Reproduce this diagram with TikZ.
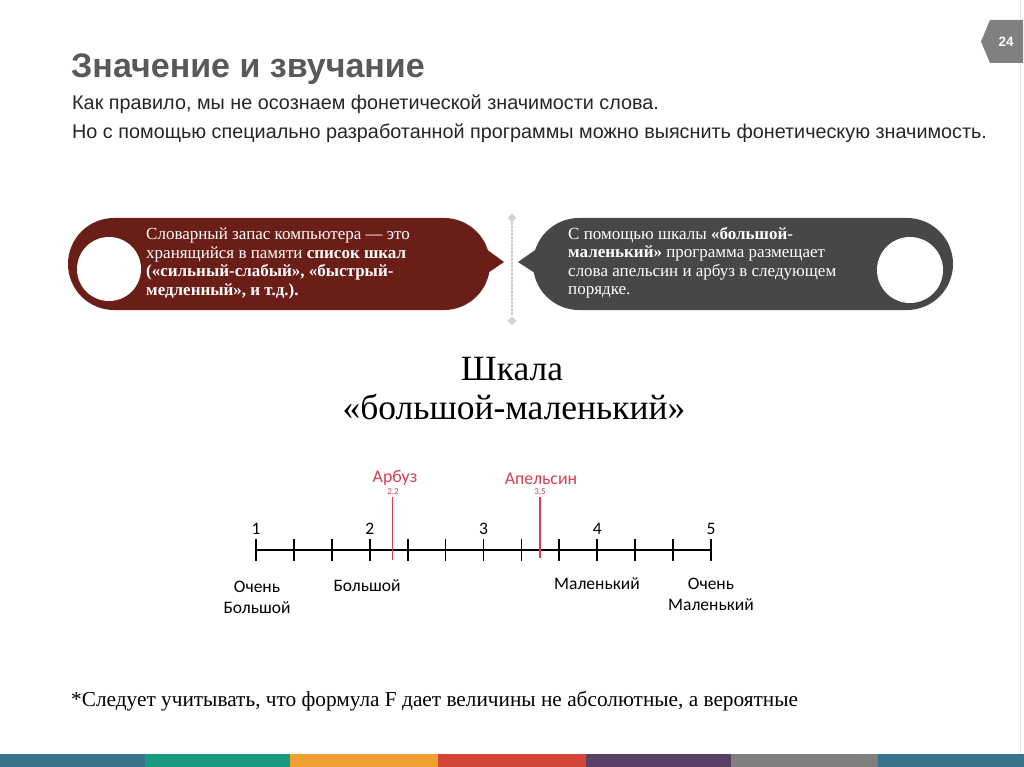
\documentclass[tikz,border=0pt]{standalone}
\usepackage{fontspec}
\setmainfont{Liberation Serif}
\newfontfamily\arialfont{Liberation Sans}
\newfontfamily\calibrifont{Carlito}
\usetikzlibrary{shapes.geometric}
\definecolor{titlegray}{RGB}{89,89,89}
\definecolor{bubblered}{RGB}{107,30,23}
\definecolor{bubblegray}{RGB}{71,71,71}
\definecolor{markred}{RGB}{214,62,82}
\definecolor{badgegray}{RGB}{128,128,128}
\definecolor{barblue}{RGB}{58,115,144}
\definecolor{barteal}{RGB}{26,154,128}
\definecolor{barorange}{RGB}{240,160,48}
\definecolor{barred}{RGB}{212,69,53}
\definecolor{barpurple}{RGB}{87,66,101}
\definecolor{bargray}{RGB}{127,127,127}

\begin{document}
\begin{tikzpicture}[line cap=round,line join=round,x=1pt,y=-1pt,
  bubbletext/.style={anchor=north west,align=left,inner sep=0pt,text=white,font=\fontsize{17}{18.5}\selectfont},
  scalelabel/.style={align=center,inner sep=0pt,font=\calibrifont\fontsize{17.5}{21}\selectfont},
  scalenum/.style={anchor=base,inner sep=0pt,font=\calibrifont\fontsize{17.5}{20}\selectfont},
  marklabel/.style={anchor=base,inner sep=0pt,text=markred,font=\calibrifont\fontsize{17.8}{20}\selectfont},
  markval/.style={anchor=base,inner sep=0pt,text=markred,font=\calibrifont\fontsize{9}{10}\selectfont},
  tickline/.style={line width=1.8pt,line cap=butt}]
\useasboundingbox (0,0) rectangle (1024,767);
\fill[white] (0,0) rectangle (1024,767);
\draw[gray!20] (1020,0) -- (1020,754);
% header
\node[anchor=base west,inner sep=0pt,text=titlegray,font=\arialfont\bfseries\fontsize{34}{40}\selectfont] (title) at (71,78) {Значение и звучание};
\node[anchor=base west,inner sep=0pt,text=black!85,font=\arialfont\fontsize{19.8}{23}\selectfont] (lineone) at (72,110) {Как правило, мы не осознаем фонетической значимости слова.};
\node[anchor=base west,inner sep=0pt,text=black!85,font=\arialfont\fontsize{19.8}{23}\selectfont] (linetwo) at (72,139) {Но с помощью специально разработанной программы можно выяснить фонетическую значимость.};
\fill[badgegray] (990,20) -- (1023,20) -- (1023,63) -- (990,63) -- (981,41.5) -- cycle;
\node[text=white,inner sep=0pt,font=\arialfont\bfseries\fontsize{13.5}{15}\selectfont] (pagenum) at (1006,41.5) {24};
% bubbles
\fill[bubblered,rounded corners=46] (68,218) rectangle (490,310);
\fill[bubblered] (482,246) -- (504,262) -- (482,277) -- cycle;
\fill[white] (109,269) circle (32);
\node[bubbletext] (lefttext) at (146,228) {Словарный запас компьютера — это\\хранящийся в памяти \textbf{список шкал}\\\textbf{(«сильный-слабый», «быстрый-}\\\textbf{медленный», и т.д.).}};
\fill[bubblegray,rounded corners=46] (533,218) rectangle (953,310);
\fill[bubblegray] (541,246) -- (518,262) -- (541,277) -- cycle;
\fill[white] (910,270) circle (33);
\node[bubbletext] (righttext) at (568,227) {С помощью шкалы \textbf{«большой-}\\\textbf{маленький»} программа размещает\\слова апельсин и арбуз в следующем\\порядке.};
\node[diamond,fill=gray!35,inner sep=0pt,minimum size=9pt] (divtop) at (512,218) {};
\node[diamond,fill=gray!35,inner sep=0pt,minimum size=9pt] (divbot) at (512,321) {};
\draw[gray!45,dotted,line width=1.6pt] (divtop) -- (divbot);
% scale
\node[anchor=base,inner sep=0pt,font=\fontsize{35.5}{40}\selectfont] (scaletitle) at (512,380) {Шкала};
\node[anchor=base,inner sep=0pt,font=\fontsize{35.5}{40}\selectfont] (scalename) at (514,419) {«большой-маленький»};
\coordinate (axstart) at (256,550);
\coordinate (axend) at (711,550);
\draw[line width=1.8pt,line cap=butt] (axstart) -- (axend);
\foreach \i in {0,...,12}
  \draw[tickline] ({256+\i*37.917},539) -- ({256+\i*37.917},561);
\foreach \n in {1,...,5}
  \node[scalenum] (num\n) at ({256+(\n-1)*113.75},534) {\n};
\draw[markred,line width=1.6pt,line cap=butt] (392.5,497) -- (392.5,560);
\node[marklabel] (arbuz) at (395,482) {Арбуз};
\node[markval] (arbuzval) at (393,494) {2,2};
\draw[markred,line width=1.6pt,line cap=butt] (540,497) -- (540,558);
\node[marklabel] (apelsin) at (541,484) {Апельсин};
\node[markval] (apelsinval) at (540,494) {3,5};
\node[scalelabel] (verybig) at (257,597) {Очень\\Большой};
\node[scalelabel] (big) at (367,586) {Большой};
\node[scalelabel] (small) at (597,584) {Маленький};
\node[scalelabel] (verysmall) at (711,594) {Очень\\Маленький};
% footnote
\node[anchor=base west,inner sep=0pt,font=\fontsize{21.3}{24}\selectfont] (footnote) at (71,706) {*Следует учитывать, что формула F дает величины не абсолютные, а вероятные};
% bottom bar
\foreach \xa/\xb/\col in {0/145/barblue,145/290/barteal,290/438/barorange,438/586/barred,586/731/barpurple,731/878/bargray,878/1024/barblue}
  \fill[\col] (\xa,754) rectangle (\xb,767);
\end{tikzpicture}
\end{document}
